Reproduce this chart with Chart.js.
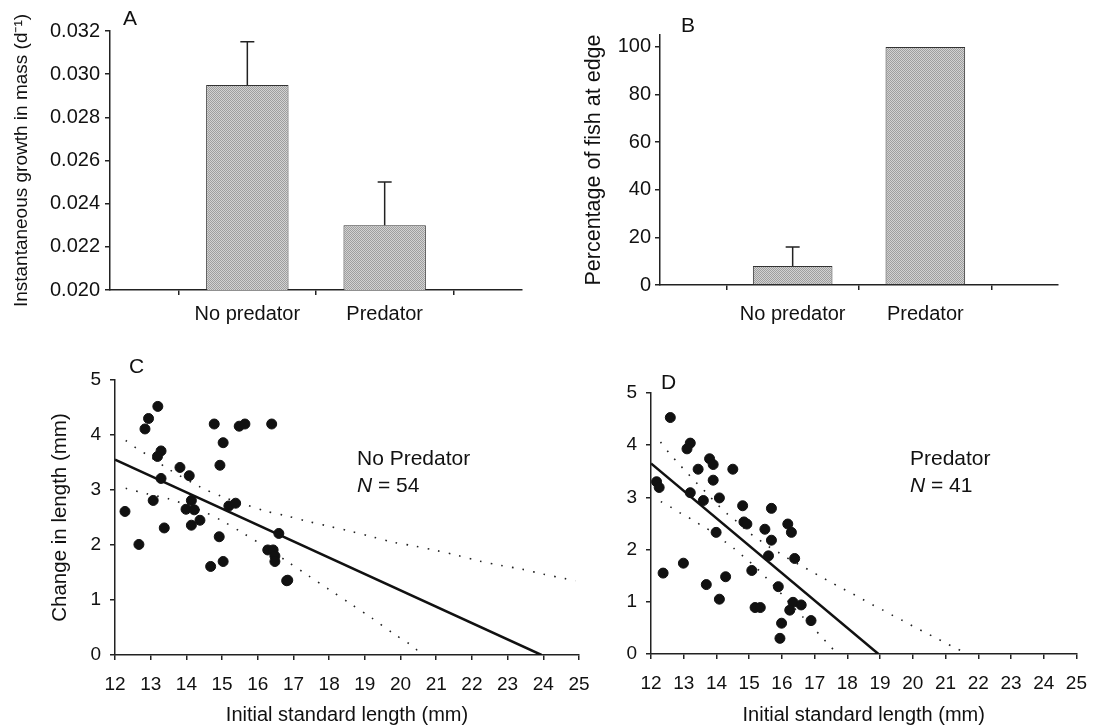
<!DOCTYPE html>
<html>
<head>
<meta charset="utf-8">
<script src="https://cdn.jsdelivr.net/npm/chart.js@4.4.1/dist/chart.umd.min.js"></script>
<style>
  body { margin: 0; background: #fff; width: 1100px; height: 727px; position: relative; overflow: hidden; font-family: "Liberation Sans", Arial, sans-serif; color: #111; }
  .box { position: absolute; }
  .lbl { position: absolute; font-size: 21px; line-height: 25px; white-space: nowrap; }
</style>
</head>
<body>
<div class="box" style="left:0;top:0;width:550px;height:330px"><canvas id="chartA"></canvas></div>
<div class="box" style="left:550px;top:0;width:550px;height:330px"><canvas id="chartB"></canvas></div>
<div class="box" style="left:0;top:330px;width:610px;height:397px"><canvas id="chartC"></canvas></div>
<div class="box" style="left:590px;top:330px;width:510px;height:397px"><canvas id="chartD"></canvas></div>

<div class="lbl" style="left:123px;top:5px">A</div>
<div class="lbl" style="left:681px;top:12px">B</div>
<div class="lbl" style="left:129px;top:353px">C</div>
<div class="lbl" style="left:661px;top:369px">D</div>
<div class="lbl" style="left:357px;top:445px">No Predator</div>
<div class="lbl" style="left:357px;top:472px"><i>N</i> = 54</div>
<div class="lbl" style="left:910px;top:445px">Predator</div>
<div class="lbl" style="left:910px;top:472px"><i>N</i> = 41</div>

<script>
// 類別（兩端留空，讓長條落在刻度上）
const groups = ["", "No predator", "Predator", ""];

// A：瞬時質量成長率
const growthMean = [null, 0.0295, 0.023, null];
const growthErrTop = [null, 0.0315, 0.025, null];

// B：在邊緣的魚比例
const edgePct = [null, 8, 100, null];
const edgeErrTop = [null, 16, null, null];

// C：無掠食者 散佈點
const noPredX = [13.2, 12.94, 12.84, 14.78, 15.48, 15.64, 16.39, 15.03, 13.29, 13.19, 14.94, 13.82, 14.08, 13.29, 13.07, 12.28, 14.14, 13.99, 14.22, 15.19, 15.38, 14.38, 14.14, 13.38, 12.67, 14.92, 14.68, 15.03, 16.59, 16.28, 16.43, 16.48, 16.48, 16.81, 16.84];
const noPredY = [4.52, 4.30, 4.11, 4.2, 4.16, 4.2, 4.2, 3.86, 3.71, 3.61, 3.45, 3.41, 3.26, 3.21, 2.81, 2.61, 2.81, 2.65, 2.64, 2.71, 2.76, 2.45, 2.36, 2.31, 2.01, 2.15, 1.61, 1.70, 2.21, 1.91, 1.91, 1.8, 1.70, 1.35, 1.36];
const noPredFitX = [12, 23.95];
const noPredFitY = [3.55, 0];
const noPredUpX = [12.3, 12.6, 12.9, 13.5, 14.4, 15.0, 15.6, 16.2, 16.8, 17.4, 18.0, 18.6, 19.2, 19.8, 20.4, 21.0, 21.6, 22.2, 22.8, 23.4, 24.0, 24.6, 24.9];
const noPredUpY = [3.9, 3.76, 3.64, 3.38, 3.05, 2.88, 2.75, 2.62, 2.53, 2.43, 2.34, 2.25, 2.15, 2.05, 1.98, 1.90, 1.81, 1.71, 1.63, 1.56, 1.47, 1.39, 1.35];
const noPredLoX = [12.3, 12.9, 13.5, 14.4, 15.0, 15.6, 16.2, 16.8, 17.4, 18.0, 18.6, 19.2, 19.8, 20.4, 20.55];
const noPredLoY = [3.03, 2.93, 2.84, 2.63, 2.44, 2.21, 1.97, 1.71, 1.45, 1.19, 0.93, 0.67, 0.39, 0.13, 0.0];

// D：有掠食者 散佈點
const predX = [12.59, 13.2, 13.1, 13.79, 13.9, 13.44, 14.5, 13.9, 12.17, 12.25, 13.2, 13.6, 14.09, 14.8, 15.68, 14.84, 14.93, 15.48, 16.18, 16.29, 13.99, 15.68, 15.59, 16.39, 12.99, 12.37, 15.08, 14.28, 13.69, 15.89, 14.09, 16.34, 16.59, 16.24, 15.18, 15.34, 16.89, 15.99, 15.94];
const predY = [4.53, 4.04, 3.93, 3.74, 3.63, 3.54, 3.54, 3.33, 3.30, 3.19, 3.09, 2.94, 2.99, 2.84, 2.79, 2.53, 2.49, 2.39, 2.49, 2.33, 2.33, 2.18, 1.88, 1.83, 1.74, 1.55, 1.60, 1.48, 1.33, 1.29, 1.05, 0.99, 0.94, 0.84, 0.89, 0.89, 0.64, 0.59, 0.30];
const predFitX = [12, 18.95];
const predFitY = [3.65, 0];
const predUpX = [12.29, 12.57, 12.84, 13.12, 13.42, 13.72, 14.02, 14.34, 14.66, 14.96, 15.28, 15.59, 15.91, 16.24, 16.56, 16.88, 17.19, 17.51, 17.83, 18.14, 18.46, 18.78, 19.09, 19.41, 19.72, 20.04, 20.35, 20.67, 21.0, 21.32, 21.65];
const predUpY = [4.06, 3.84, 3.65, 3.46, 3.26, 3.07, 2.87, 2.68, 2.52, 2.34, 2.20, 2.06, 1.94, 1.81, 1.70, 1.59, 1.48, 1.37, 1.26, 1.16, 1.05, 0.94, 0.84, 0.73, 0.63, 0.52, 0.42, 0.32, 0.21, 0.11, 0.01];
const predLoX = [12.3, 12.64, 12.95, 13.27, 13.57, 13.9, 14.22, 14.54, 14.84, 15.17, 15.49, 15.78, 16.06, 16.35, 16.64, 16.93, 17.21, 17.49, 17.7];
const predLoY = [2.92, 2.80, 2.68, 2.57, 2.45, 2.33, 2.17, 2.02, 1.86, 1.68, 1.48, 1.29, 1.10, 0.90, 0.71, 0.52, 0.33, 0.14, 0.0];

// 刻度
const growthTicks = [0.020, 0.022, 0.024, 0.026, 0.028, 0.030, 0.032];
const pctTicks = [0, 20, 40, 60, 80, 100];
const lengthTicks = [12, 13, 14, 15, 16, 17, 18, 19, 20, 21, 22, 23, 24, 25];
const changeTicks = [0, 1, 2, 3, 4, 5];

const FONT = "'Liberation Sans', Arial, sans-serif";
const INK = "#111";
Chart.defaults.font.family = FONT;
Chart.defaults.color = INK;
Chart.defaults.animation = false;
Chart.defaults.devicePixelRatio = 1;

function toPoints(xs, ys) {
	return xs.map((x, i) => ({ x: x, y: ys[i] }));
}

// 灰色網點填色
function makePattern() {
	const c = document.createElement("canvas");
	c.width = 2;
	c.height = 2;
	const g = c.getContext("2d");
	g.fillStyle = "#d2d2d2";
	g.fillRect(0, 0, 2, 2);
	g.fillStyle = "#9e9e9e";
	g.fillRect(0, 0, 1, 1);
	g.fillRect(1, 1, 1, 1);
	return g.createPattern(c, "repeat");
}
const barFill = makePattern();

// 誤差線
const errorBars = {
	id: "errorBars",
	afterDatasetsDraw(chart, args, opts) {
		if (!opts.tops) return;
		const meta = chart.getDatasetMeta(0);
		const ys = chart.scales.y;
		const ctx = chart.ctx;
		ctx.save();
		ctx.strokeStyle = "#222";
		ctx.lineWidth = 1.5;
		opts.tops.forEach((v, i) => {
			if (v == null) return;
			const bar = meta.data[i];
			const y1 = ys.getPixelForValue(v);
			ctx.beginPath();
			ctx.moveTo(bar.x, bar.y);
			ctx.lineTo(bar.x, y1);
			ctx.moveTo(bar.x - 7, y1);
			ctx.lineTo(bar.x + 7, y1);
			ctx.stroke();
		});
		ctx.restore();
	},
};

function axisGrid() {
	return { display: true, drawOnChartArea: false, drawTicks: true, tickLength: 5, color: "#222", lineWidth: 1.5 };
}
function axisBorder() {
	return { display: true, color: "#222", width: 1.5 };
}

function barChart(id, values, tops, yOpts, pad, xH, xPad) {
	return new Chart(document.getElementById(id), {
		type: "bar",
		data: {
			labels: groups,
			datasets: [
				{
					data: values,
					backgroundColor: barFill,
					borderColor: "#333",
					borderWidth: 1,
					categoryPercentage: 1,
					barPercentage: 0.6,
				},
			],
		},
		options: {
			responsive: true,
			maintainAspectRatio: false,
			layout: { padding: pad },
			plugins: {
				legend: { display: false },
				tooltip: { enabled: false },
				errorBars: { tops: tops },
			},
			scales: {
				x: {
					offset: false,
					grid: axisGrid(),
					border: axisBorder(),
					ticks: { font: { size: 20 }, color: INK, padding: xPad, maxRotation: 0, autoSkip: false },
					afterFit: (s) => { s.height = xH; },
				},
				y: yOpts,
			},
		},
		plugins: [errorBars],
	});
}

// A
barChart(
	"chartA",
	growthMean,
	growthErrTop,
	{
		min: 0.020,
		max: 0.032,
		grid: axisGrid(),
		border: axisBorder(),
		afterBuildTicks: (s) => { s.ticks = growthTicks.map((v) => ({ value: v })); },
		ticks: { font: { size: 20 }, color: INK, padding: 5, callback: (v) => Number(v).toFixed(3) },
		title: { display: true, text: "Instantaneous growth in mass (d\u207B\u00B9)", font: { size: 19 }, color: INK, padding: { top: 10, bottom: 0 } },
		afterFit: (s) => { s.width = 110; },
	},
	{ top: 31, right: 28, bottom: 0, left: 0 },
	40,
	7
);

// B
barChart(
	"chartB",
	edgePct,
	edgeErrTop,
	{
		min: 0,
		max: 105,
		grid: axisGrid(),
		border: axisBorder(),
		afterBuildTicks: (s) => { s.ticks = pctTicks.map((v) => ({ value: v })); },
		ticks: { font: { size: 20 }, color: INK, padding: 4 },
		title: { display: true, text: "Percentage of fish at edge", font: { size: 21.5 }, color: INK, padding: { top: 31, bottom: 0 } },
		afterFit: (s) => { s.width = 110; },
	},
	{ top: 35, right: 42, bottom: 0, left: 0 },
	45,
	12
);

function scatterChart(id, xs, ys, fitX, fitY, upX, upY, loX, loY, yTitle, yW, yTitlePad, pad, xH) {
	const dotted = { type: "line", showLine: true, borderColor: "#222", borderWidth: 1.6, borderDash: [1.6, 9.2], pointRadius: 0, fill: false, tension: 0.3 };
	return new Chart(document.getElementById(id), {
		type: "scatter",
		data: {
			datasets: [
				{ data: toPoints(xs, ys), backgroundColor: INK, borderColor: INK, pointRadius: 5, pointHoverRadius: 5 },
				{ type: "line", data: toPoints(fitX, fitY), showLine: true, borderColor: INK, borderWidth: 2.5, pointRadius: 0, fill: false },
				Object.assign({ data: toPoints(upX, upY) }, dotted),
				Object.assign({ data: toPoints(loX, loY) }, dotted),
			],
		},
		options: {
			responsive: true,
			maintainAspectRatio: false,
			layout: { padding: pad },
			plugins: { legend: { display: false }, tooltip: { enabled: false } },
			scales: {
				x: {
					type: "linear",
					min: 12,
					max: 25,
					grid: axisGrid(),
					border: axisBorder(),
					afterBuildTicks: (s) => { s.ticks = lengthTicks.map((v) => ({ value: v })); },
					ticks: { font: { size: 19 }, color: INK, padding: 13, maxRotation: 0, autoSkip: false },
					title: { display: true, text: "Initial standard length (mm)", font: { size: 20 }, color: INK, padding: { top: 0, bottom: 0 } },
					afterFit: (s) => { s.height = xH; },
				},
				y: {
					min: 0,
					max: 5,
					grid: axisGrid(),
					border: axisBorder(),
					afterBuildTicks: (s) => { s.ticks = changeTicks.map((v) => ({ value: v })); },
					ticks: { font: { size: 19 }, color: INK, padding: 9 },
					title: { display: !!yTitle, text: yTitle, font: { size: 20.5 }, color: INK, padding: { top: yTitlePad, bottom: 0 } },
					afterFit: (s) => { s.width = yW; },
				},
			},
		},
	});
}

// C
scatterChart("chartC", noPredX, noPredY, noPredFitX, noPredFitY, noPredUpX, noPredUpY, noPredLoX, noPredLoY,
	"Change in length (mm)", 115, 48, { top: 50, right: 31, bottom: 0, left: 0 }, 72);

// D
scatterChart("chartD", predX, predY, predFitX, predFitY, predUpX, predUpY, predLoX, predLoY,
	"", 61, 0, { top: 63, right: 13, bottom: 0, left: 0 }, 73);
</script>
</body>
</html>
